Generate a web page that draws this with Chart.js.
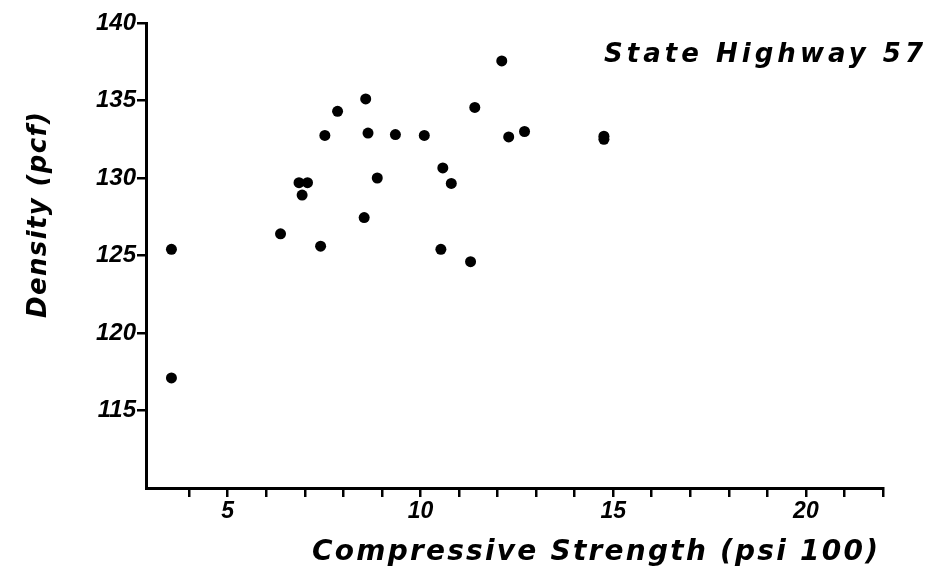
<!DOCTYPE html>
<html>
<head>
<meta charset="utf-8">
<script src="https://cdn.jsdelivr.net/npm/chart.js@4.4.1/dist/chart.umd.min.js"></script>
<style>
  html, body { margin: 0; padding: 0; background: #fff; }
  canvas { display: block; }
</style>
</head>
<body>
<canvas id="chart" width="934" height="574"></canvas>
<script>
// Compressive strength (psi/100) and density (pcf)
const strength = [3.54, 3.54, 6.37, 7.41, 6.85, 7.07, 6.93, 7.52, 7.85, 8.58, 8.64, 8.54, 8.88,
                  9.35, 10.1, 10.58, 10.8, 10.53, 11.3, 11.41, 12.11, 12.29, 12.7, 14.76, 14.76];
const density = [125.4, 117.1, 126.4, 125.6, 129.7, 129.7, 128.9, 132.75, 134.3, 135.1, 132.9, 127.45, 130.0,
                 132.8, 132.75, 130.65, 129.65, 125.4, 124.6, 134.55, 137.55, 132.65, 133.0, 132.5, 132.7];

const xTickLabels = [5, 10, 15, 20];
const yTickLabels = [115, 120, 125, 130, 135, 140];

const xTitle = 'Compressive Strength (psi 100)';
const yTitle = 'Density (pcf)';
const note = 'State Highway 57';

const FONT = '"Liberation Sans", Arial, sans-serif';
const TITLE_FONT = '"DejaVu Sans", sans-serif';

// draws spaced-out lettering like the original hand lettering
function spacedText(ctx, text, x, y, width) {
  ctx.letterSpacing = '0px';
  const w = ctx.measureText(text).width;
  const sp = (width - w) / (text.length - 1);
  ctx.letterSpacing = sp + 'px';
  ctx.fillText(text, x, y);
}

const titles = {
  id: 'titles',
  afterDraw(chart) {
    const ctx = chart.ctx;
    ctx.save();
    ctx.fillStyle = '#000';
    ctx.textAlign = 'left';
    ctx.textBaseline = 'alphabetic';

    ctx.font = 'oblique bold 28px ' + TITLE_FONT;
    spacedText(ctx, xTitle, 312, 560, 566);

    ctx.font = 'oblique bold 26px ' + TITLE_FONT;
    spacedText(ctx, note, 604, 62, 319);

    ctx.save();
    ctx.translate(46, 318);
    ctx.rotate(-Math.PI / 2);
    spacedText(ctx, yTitle, 0, 0, 206);
    ctx.restore();

    ctx.restore();
  }
};

const points = strength.map((s, i) => ({ x: s, y: density[i] }));

new Chart(document.getElementById('chart'), {
  type: 'scatter',
  data: {
    datasets: [{
      data: points,
      backgroundColor: '#000',
      borderColor: '#000',
      pointRadius: 5.5,
      pointHoverRadius: 5.5,
      borderWidth: 0
    }]
  },
  options: {
    responsive: false,
    animation: false,
    devicePixelRatio: 1,
    layout: { padding: { top: 23, right: 51, left: 0, bottom: 0 } },
    plugins: { legend: { display: false }, tooltip: { enabled: false } },
    scales: {
      x: {
        type: 'linear',
        min: 2.88,
        max: 22,
        afterFit: (scale) => { scale.height = 86; },
        border: { color: '#000', width: 3 },
        grid: {
          drawOnChartArea: false,
          tickLength: 9,
          lineWidth: 2.5,
          color: (c) => (c.tick && Number.isInteger(c.tick.value)) ? '#000' : 'rgba(0,0,0,0)'
        },
        ticks: {
          stepSize: 1,
          autoSkip: false,
          maxRotation: 0,
          padding: 1,
          color: '#000',
          font: { family: FONT, size: 23, style: 'italic', weight: 'bold' },
          callback: (v) => xTickLabels.includes(v) ? String(v) : ''
        }
      },
      y: {
        min: 110,
        max: 140,
        afterFit: (scale) => { scale.width = 146; },
        border: { color: '#000', width: 3 },
        grid: {
          drawOnChartArea: false,
          tickLength: 9,
          lineWidth: 2.5,
          color: (c) => (c.tick && yTickLabels.includes(c.tick.value)) ? '#000' : 'rgba(0,0,0,0)'
        },
        ticks: {
          stepSize: 5,
          padding: 1,
          color: '#000',
          font: { family: FONT, size: 24, style: 'italic', weight: 'bold' },
          callback: (v) => yTickLabels.includes(v) ? String(v) : ''
        }
      }
    }
  },
  plugins: [titles]
});
</script>
</body>
</html>
